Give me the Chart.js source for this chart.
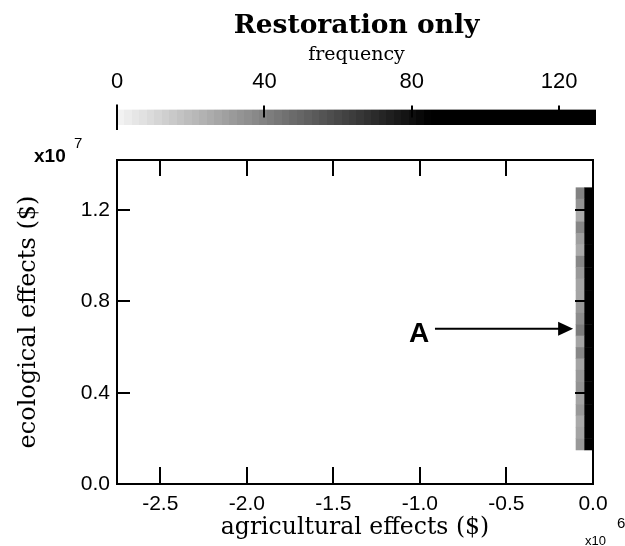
<!DOCTYPE html>
<html>
<head>
<meta charset="utf-8">
<script src="https://cdn.jsdelivr.net/npm/chart.js@4/dist/chart.umd.min.js"></script>
<style>
  html, body { margin: 0; padding: 0; background: #ffffff; }
  #wrap { position: relative; width: 625px; height: 546px; overflow: hidden; }
  #cb { position: absolute; left: 0; top: 0; }
  #main { position: absolute; left: 0; top: 135px; }
</style>
</head>
<body>
<div id="wrap">
  <canvas id="cb" width="625" height="140"></canvas>
  <canvas id="main" width="625" height="411"></canvas>
</div>
<script>
// ---------- data ----------
const chartTitle = 'Restoration only';
const colorbarLabel = 'frequency';
const colorbarTicks = [0, 40, 80, 120];
const colorbarMin = 0;
const colorbarMax = 130;

const xAxisTitle = 'agricultural effects ($)';
const yAxisTitle = 'ecological effects ($)';
const xTicks = [-2.5, -2.0, -1.5, -1.0, -0.5, 0.0];
const yTicks = [0.0, 0.4, 0.8, 1.2];
const xMin = -2.75, xMax = 0;
const yMin = 0, yMax = 1.42;
const xExponent = '6';
const yExponent = '7';

// heat-map bins (x: ×10^6 $, y: ×10^7 $)
const binWidth = 0.05;
const binHeight = 0.05;
const columnCenters = [-0.075, -0.025];
const rowCenters = [1.275, 1.225, 1.175, 1.125, 1.075, 1.025, 0.975, 0.925, 0.875, 0.825,
                    0.775, 0.725, 0.675, 0.625, 0.575, 0.525, 0.475, 0.425, 0.375, 0.325,
                    0.275, 0.225, 0.175];
// frequency in the left (grey) column, top to bottom
const freqLeftColumn = [40, 34, 26, 38, 30, 26, 38, 32, 28, 28,
                        32, 36, 42, 28, 38, 28, 32, 34, 28, 32,
                        26, 28, 32];
// frequency in the right (black) column, top to bottom
const freqRightColumn = [92, 118, 124, 121, 127, 119, 125, 122, 128, 120,
                         126, 123, 129, 121, 124, 127, 120, 125, 122, 126,
                         119, 116, 104];

// annotation "A"
const annotationText = 'A';
const annotationLabelAt = [-1.005, 0.657];
const annotationArrowFrom = [-0.913, 0.68];
const annotationArrowTo = [-0.115, 0.68];

// ---------- helpers ----------
function grayFor(v) {
  const t = Math.max(0, Math.min(1, v / 85));
  const g = Math.round(245 * (1 - t));
  return 'rgb(' + g + ',' + g + ',' + g + ')';
}

const heatData = [];
rowCenters.forEach((y, i) => {
  heatData.push({ x: columnCenters[0], y: y, v: freqLeftColumn[i] });
  heatData.push({ x: columnCenters[1], y: y, v: freqRightColumn[i] });
});

const SANS = '"Liberation Sans", Arial, sans-serif';
const SERIF = '"DejaVu Serif", "Liberation Serif", serif';

// ---------- colour bar chart ----------
const cbDecor = {
  id: 'cbDecor',
  afterDatasetsDraw(chart) {
    const ctx = chart.ctx;
    const xs = chart.scales.x;
    const ca = chart.chartArea;
    ctx.save();
    ctx.strokeStyle = '#000';
    ctx.lineWidth = 2;
    colorbarTicks.forEach(v => {
      const px = Math.round(xs.getPixelForValue(v));
      ctx.beginPath();
      if (v === colorbarMin) {
        ctx.moveTo(px, ca.top - 5);
        ctx.lineTo(px, ca.bottom + 5);
      } else {
        ctx.moveTo(px, ca.top - 4);
        ctx.lineTo(px, ca.top + 8);
      }
      ctx.stroke();
    });
    ctx.restore();
  }
};

new Chart(document.getElementById('cb'), {
  type: 'bar',
  data: {
    labels: [colorbarLabel],
    datasets: [{
      data: [[colorbarMin, colorbarMax]],
      backgroundColor(c) {
        const chart = c.chart;
        if (!chart.chartArea) return '#888';
        const xs = chart.scales.x;
        const x0 = xs.getPixelForValue(colorbarMin);
        const x1 = xs.getPixelForValue(colorbarMax);
        const g = chart.ctx.createLinearGradient(x0, 0, x1, 0);
        const N = 64;
        for (let i = 0; i < N; i++) {
          const v = colorbarMin + (colorbarMax - colorbarMin) * (i + 0.5) / N;
          const col = grayFor(v);
          g.addColorStop(i / N, col);
          g.addColorStop((i + 1) / N, col);
        }
        return g;
      },
      borderWidth: 0,
      borderSkipped: false,
      barPercentage: 1,
      categoryPercentage: 1
    }]
  },
  options: {
    indexAxis: 'y',
    responsive: false,
    animation: false,
    devicePixelRatio: 1,
    layout: { padding: { left: 117, right: 29, top: 0, bottom: 15 } },
    plugins: {
      legend: { display: false },
      tooltip: { enabled: false },
      title: {
        display: true, text: chartTitle, color: '#000',
        font: { family: SERIF, size: 26.5, weight: 'bold' },
        padding: { top: 10, bottom: 0 }
      },
      subtitle: {
        display: true, text: colorbarLabel, color: '#000',
        font: { family: SERIF, size: 19 },
        padding: { top: 2, bottom: 3 }
      }
    },
    scales: {
      x: {
        type: 'linear', position: 'top', min: colorbarMin, max: colorbarMax,
        afterBuildTicks(s) { s.ticks = colorbarTicks.map(v => ({ value: v })); },
        afterFit(s) { s.height = 40; },
        grid: { display: false, drawTicks: false },
        border: { display: false },
        ticks: { color: '#000', padding: 14, font: { family: SANS, size: 22 },
                 maxRotation: 0, autoSkip: false }
      },
      y: { display: false }
    }
  },
  plugins: [cbDecor]
});

// ---------- main chart ----------
const mainDecor = {
  id: 'mainDecor',
  beforeDatasetsDraw(chart) {
    const ctx = chart.ctx;
    const xs = chart.scales.x, ys = chart.scales.y;
    ctx.save();
    chart.data.datasets[0].data.forEach(p => {
      const x0 = xs.getPixelForValue(p.x - binWidth / 2);
      const x1 = xs.getPixelForValue(p.x + binWidth / 2);
      const y0 = ys.getPixelForValue(p.y + binHeight / 2);
      const y1 = ys.getPixelForValue(p.y - binHeight / 2);
      ctx.fillStyle = grayFor(p.v);
      ctx.fillRect(x0, y0, x1 - x0 + 0.5, y1 - y0 + 0.5);
    });
    ctx.restore();
  },
  afterDatasetsDraw(chart) {
    const ctx = chart.ctx;
    const xs = chart.scales.x, ys = chart.scales.y;
    const ca = chart.chartArea;
    ctx.save();
    ctx.strokeStyle = '#000';
    ctx.lineWidth = 2;
    // inward ticks
    xTicks.forEach(v => {
      const px = Math.round(xs.getPixelForValue(v));
      ctx.beginPath();
      ctx.moveTo(px, ca.bottom); ctx.lineTo(px, ca.bottom - 17);
      ctx.moveTo(px, ca.top); ctx.lineTo(px, ca.top + 16);
      ctx.stroke();
    });
    yTicks.forEach(v => {
      const py = Math.round(ys.getPixelForValue(v));
      ctx.beginPath();
      ctx.moveTo(ca.left, py); ctx.lineTo(ca.left + 13, py);
      ctx.moveTo(ca.right, py); ctx.lineTo(ca.right - 18, py);
      ctx.stroke();
    });
    // box
    ctx.strokeRect(ca.left, ca.top, ca.right - ca.left, ca.bottom - ca.top);

    // annotation
    const ax0 = xs.getPixelForValue(annotationArrowFrom[0]);
    const ax1 = xs.getPixelForValue(annotationArrowTo[0]);
    const ay = ys.getPixelForValue(annotationArrowFrom[1]);
    ctx.beginPath();
    ctx.moveTo(ax0, ay); ctx.lineTo(ax1 - 14, ay);
    ctx.stroke();
    ctx.fillStyle = '#000';
    ctx.beginPath();
    ctx.moveTo(ax1, ay);
    ctx.lineTo(ax1 - 15, ay - 7);
    ctx.lineTo(ax1 - 15, ay + 7);
    ctx.closePath();
    ctx.fill();
    ctx.font = 'bold 28px ' + SANS;
    ctx.textAlign = 'center';
    ctx.textBaseline = 'middle';
    ctx.fillText(annotationText, xs.getPixelForValue(annotationLabelAt[0]), ys.getPixelForValue(annotationLabelAt[1]));

    // exponents
    ctx.textAlign = 'left';
    ctx.textBaseline = 'alphabetic';
    ctx.font = 'bold 19px ' + SANS;
    ctx.fillText('x10', ca.left - 83, ca.top + 2);
    ctx.font = '15px ' + SANS;
    ctx.fillText(yExponent, ca.left - 43, ca.top - 12);

    ctx.font = '13px ' + SANS;
    ctx.fillText('x10', ca.right - 8, ca.bottom + 61);
    ctx.font = '15px ' + SANS;
    ctx.fillText(xExponent, ca.right + 24, ca.bottom + 44);
    ctx.restore();
  }
};

new Chart(document.getElementById('main'), {
  type: 'scatter',
  data: {
    datasets: [{
      data: heatData,
      pointRadius: 0,
      pointHoverRadius: 0,
      showLine: false
    }]
  },
  options: {
    responsive: false,
    animation: false,
    devicePixelRatio: 1,
    layout: { padding: { left: 0, right: 32, top: 25, bottom: 0 } },
    plugins: { legend: { display: false }, tooltip: { enabled: false } },
    scales: {
      x: {
        type: 'linear', min: xMin, max: xMax,
        afterBuildTicks(s) { s.ticks = xTicks.map(v => ({ value: v })); },
        afterFit(s) { s.height = 62; },
        grid: { display: false, drawTicks: false },
        border: { display: false },
        ticks: {
          color: '#000', padding: 8, font: { family: SANS, size: 21 },
          maxRotation: 0, autoSkip: false,
          callback: v => Number(v).toFixed(1)
        },
        title: {
          display: true, text: xAxisTitle, color: '#000',
          font: { family: SERIF, size: 23.5 },
          padding: { top: 0, bottom: 4 }
        }
      },
      y: {
        type: 'linear', min: yMin, max: yMax,
        afterBuildTicks(s) { s.ticks = yTicks.map(v => ({ value: v })); },
        afterFit(s) { s.width = 117; },
        grid: { display: false, drawTicks: false },
        border: { display: false },
        ticks: {
          color: '#000', padding: 7, font: { family: SANS, size: 21 },
          autoSkip: false,
          callback: v => Number(v).toFixed(1)
        },
        title: {
          display: true, text: yAxisTitle, color: '#000',
          font: { family: SERIF, size: 24 },
          padding: { top: 14, bottom: 0 }
        }
      }
    }
  },
  plugins: [mainDecor]
});
</script>
</body>
</html>
